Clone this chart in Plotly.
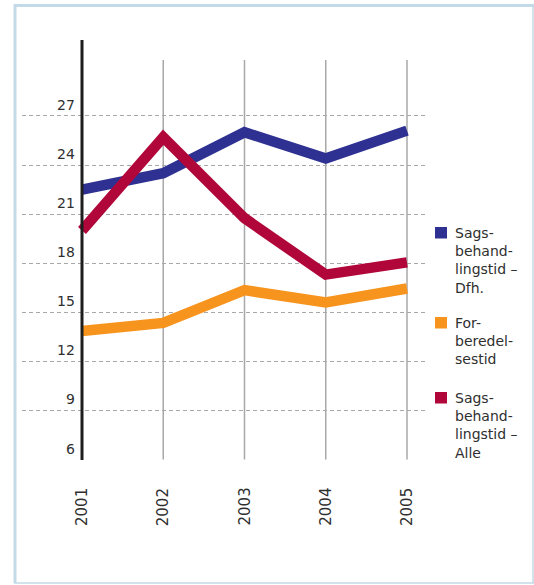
import plotly.graph_objects as go

# Processing times (months) per year
years = [2001, 2002, 2003, 2004, 2005]
sags_dfh = [22.5, 23.5, 26.0, 24.4, 26.1]
forberedelse = [13.85, 14.35, 16.35, 15.6, 16.45]
sags_alle = [20.0, 25.7, 20.75, 17.3, 18.05]

series_names = ["Sags-<br>behand-<br>lingstid –<br>Dfh.",
                "For-<br>beredel-<br>sestid",
                "Sags-<br>behand-<br>lingstid –<br>Alle"]
series_colors = ["#2e3192", "#f7941e", "#b0063a"]
y_ticks = [6, 9, 12, 15, 18, 21, 24, 27]

FONT = "DejaVu Sans"
TEXT = "#2f2f2f"
GRID = "#a8a8a8"
FRAME = "#c3dae8"

# Pixel layout of the plot area
W, H = 534, 585
L, R, T, B = 22, 426, 40, 460
px_per_year = 81.25
x_first = 82
x_range = [years[0] - (x_first - L) / px_per_year,
           years[-1] + (R - (x_first + 4 * px_per_year)) / px_per_year]
px_per_unit = (460 - 116) / 21.0
y_range = [5.97, 6 + (B - T) / px_per_unit]


def px_x(px):
    return (px - L) / (R - L)


def px_y(py):
    return (B - py) / (B - T)


fig = go.Figure()

for vals, name, col in zip([sags_dfh, forberedelse, sags_alle], series_names, series_colors):
    fig.add_trace(go.Scatter(x=years, y=vals, mode="lines", name=name,
                             line=dict(color=col, width=10.5), showlegend=False,
                             hoverinfo="skip"))

shapes = []
# Vertical year lines
for yr in years[1:]:
    shapes.append(dict(type="line", xref="x", yref="y", x0=yr, x1=yr,
                       y0=6, y1=6 + (B - 60) / px_per_unit,
                       line=dict(color=GRID, width=1.5), layer="below"))
# Main vertical axis at the first year
shapes.append(dict(type="line", xref="x", yref="paper", x0=years[0], x1=years[0],
                   y0=0, y1=1, line=dict(color="#1e1e1e", width=3), layer="above"))

# Outer frame
shapes += [
    dict(type="line", xref="paper", yref="paper", x0=px_x(15), x1=px_x(15),
         y0=px_y(4), y1=px_y(583), line=dict(color=FRAME, width=3)),
    dict(type="line", xref="paper", yref="paper", x0=px_x(14), x1=px_x(534),
         y0=px_y(5.5), y1=px_y(5.5), line=dict(color=FRAME, width=3)),
    dict(type="line", xref="paper", yref="paper", x0=px_x(533), x1=px_x(533),
         y0=px_y(4), y1=px_y(583), line=dict(color=FRAME, width=1.5)),
    dict(type="line", xref="paper", yref="paper", x0=px_x(14), x1=px_x(534),
         y0=px_y(583), y1=px_y(583), line=dict(color=FRAME, width=1.5)),
]

# Legend: coloured squares with wrapped labels
legend_centres = [260, 341, 425]
square_tops = [227, 317, 392]
for name, col, yc, st in zip(series_names, series_colors, legend_centres, square_tops):
    shapes.append(dict(type="rect", xref="paper", yref="paper",
                       x0=px_x(435), x1=px_x(447), y0=px_y(st), y1=px_y(st + 11.5),
                       fillcolor=col, line=dict(width=0)))

annotations = []
for name, yc in zip(series_names, legend_centres):
    annotations.append(dict(text=name, xref="paper", yref="paper",
                            x=px_x(453), y=px_y(yc), xanchor="left", yanchor="middle",
                            align="left", showarrow=False,
                            font=dict(family=FONT, size=14, color=TEXT)))

# Value labels sitting just above each dashed gridline
for v in y_ticks:
    annotations.append(dict(text=str(v), xref="paper", yref="y", x=px_x(77), y=v,
                            yshift=11, xanchor="right", yanchor="middle",
                            showarrow=False,
                            font=dict(family=FONT, size=14, color=TEXT)))

# Rotated year labels below the plot
for yr in years:
    annotations.append(dict(text=str(yr), xref="x", yref="paper", x=yr, y=px_y(507),
                            textangle=-90, xanchor="center", yanchor="middle",
                            showarrow=False,
                            font=dict(family=FONT, size=15, color=TEXT)))

fig.update_layout(
    width=W, height=H,
    margin=dict(l=L, r=W - R, t=T, b=H - B),
    paper_bgcolor="white", plot_bgcolor="white",
    xaxis=dict(range=x_range, showgrid=False, zeroline=False, showticklabels=False,
               showline=False, ticks=""),
    yaxis=dict(range=y_range, tickvals=y_ticks, showgrid=True, gridcolor=GRID,
               griddash="4px,3px", gridwidth=1, zeroline=False, showticklabels=False,
               showline=False, ticks=""),
    shapes=shapes,
    annotations=annotations,
    showlegend=False,
)

fig.write_html("out.html")
